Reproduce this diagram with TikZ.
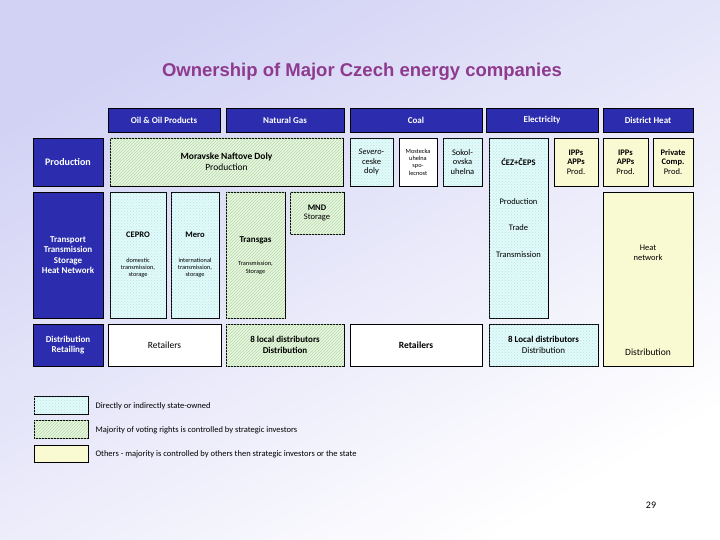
\documentclass[tikz,border=0pt]{standalone}
\usepackage{fontspec}
\setmainfont{Carlito}
\newfontfamily\titlefont{Liberation Sans}
\usetikzlibrary{patterns}
\definecolor{hdr}{HTML}{2B2DAE}
\definecolor{stcol}{HTML}{E2FAFA}
\definecolor{stpat}{HTML}{B8E6E6}
\definecolor{strcol}{HTML}{EAF8E2}
\definecolor{strpat}{HTML}{B5D9A8}
\definecolor{othcol}{HTML}{FAFAD2}
\definecolor{ttl}{HTML}{8E3A8E}
\definecolor{bgA}{HTML}{D2D2F5}
\tikzset{
 hbox/.style={draw=black,fill=hdr,text=white,font=\bfseries\fontsize{9}{10.5}\selectfont,align=center},
 stbox/.style={draw=black,fill=stcol,postaction={pattern=crosshatch dots,pattern color=stpat}},
 strbox/.style={draw=black,fill=strcol,postaction={pattern=north east lines,pattern color=strpat}},
 othbox/.style={draw=black,fill=othcol},
 whbox/.style={draw=black,fill=white},
 txt/.style={font=\fontsize{8.5}{9.5}\selectfont,align=center},
 sm/.style={font=\fontsize{6.3}{7.3}\selectfont,align=center},
}
\begin{document}
\begin{tikzpicture}[x=1pt,y=-1pt]
\shade[top color=bgA,bottom color=white,shading angle=30] (0,0) rectangle (720,540);
\useasboundingbox (0,0) rectangle (720,540);
\node[text=ttl,font=\titlefont\bfseries\fontsize{18.5}{22}\selectfont] (title) at (362,72) {Ownership of Major Czech energy companies};
% headers
\node[hbox,minimum width=112pt,minimum height=24pt] (h1) at (164,120) {Oil \& Oil Products};
\node[hbox,minimum width=118pt,minimum height=24pt] (h2) at (285,120) {Natural Gas};
\node[hbox,minimum width=132pt,minimum height=24pt] (h3) at (416,120) {Coal};
\node[hbox,minimum width=112pt,minimum height=24pt] (h4) at (542,120) {Electricity};
\node[hbox,minimum width=90pt,minimum height=24pt] (h5) at (648,120) {District Heat};
\node[hbox,minimum width=70pt,minimum height=48pt,font=\bfseries\fontsize{10}{11.5}\selectfont] (r1) at (68,162) {Production};
\node[hbox,minimum width=70pt,minimum height=126pt,inner sep=0pt] (r2) at (68,255) {Transport\\Transmission\\Storage\\Heat Network};
\node[hbox,minimum width=70pt,minimum height=42pt] (r3) at (68,345) {Distribution\\Retailing};
% production
\node[strbox,minimum width=233pt,minimum height=48pt] (mnd) at (226.5,162) {};
\node[txt,font=\fontsize{9.5}{11}\selectfont] at (mnd) {\textbf{Moravske Naftove Doly}\\Production};
\node[stbox,minimum width=43pt,minimum height=48pt] (sev) at (371.5,162) {};
\node[txt] at (sev) {\textit{Severo-}\\ceske\\doly};
\node[whbox,minimum width=38pt,minimum height=48pt,sm,inner sep=0pt] (mos) at (418,162) {Mostecka\\uhelna\\spo-\\lecnost};
\node[stbox,minimum width=39pt,minimum height=48pt] (sok) at (462.5,162) {};
\node[txt] at (sok) {Sokol-\\ovska\\uhelna};
\node[stbox,minimum width=59pt,minimum height=180pt] (cez) at (518.5,228) {};
\node[txt,font=\bfseries\fontsize{8.5}{9.5}\selectfont] at (518.5,162) {ĆEZ+ČEPS};
\node[txt] at (518.5,202) {Production};
\node[txt] at (518.5,228) {Trade};
\node[txt] at (518.5,255) {Transmission};
\node[othbox,minimum width=44pt,minimum height=48pt,txt] (ipp1) at (576,162) {\textbf{IPPs}\\\textbf{APPs}\\Prod.};
\node[othbox,minimum width=45pt,minimum height=48pt,txt] (ipp2) at (625.5,162) {\textbf{IPPs}\\\textbf{APPs}\\Prod.};
\node[othbox,minimum width=40pt,minimum height=48pt,txt,inner sep=0pt] (priv) at (673,162) {\textbf{Private}\\\textbf{Comp.}\\Prod.};
\node[othbox,minimum width=90pt,minimum height=174pt] (heat) at (648,279) {};
\node[txt] at (648,253) {Heat\\network};
\node[txt,font=\fontsize{9.5}{11}\selectfont] at (648,352) {Distribution};
% transport
\node[stbox,minimum width=56pt,minimum height=126pt] (cepro) at (138,255) {};
\node[txt,font=\bfseries\fontsize{8.5}{9.5}\selectfont] at (138,235) {CEPRO};
\node[sm] at (138,268) {domestic\\transmission,\\storage};
\node[stbox,minimum width=48pt,minimum height=126pt] (mero) at (195,255) {};
\node[txt,font=\bfseries\fontsize{8.5}{9.5}\selectfont] at (195,235) {Mero};
\node[sm] at (195,268) {international\\transmission,\\storage};
\node[strbox,minimum width=59pt,minimum height=126pt] (tg) at (255.5,255) {};
\node[txt,font=\bfseries\fontsize{9}{10}\selectfont] at (255.5,240) {Transgas};
\node[sm] at (255.5,268) {Transmission,\\Storage};
\node[strbox,minimum width=54pt,minimum height=42pt] (mndst) at (317,213) {};
\node[txt] at (317,213) {\textbf{MND}\\Storage};
% distribution
\node[whbox,minimum width=113pt,minimum height=42pt,txt,font=\fontsize{9.5}{11}\selectfont] (ret1) at (164.5,345) {Retailers};
\node[strbox,minimum width=118pt,minimum height=42pt] (loc1) at (285,345) {};
\node[txt,font=\fontsize{9}{10.5}\selectfont] at (loc1) {\textbf{8 local distributors}\\\textbf{Distribution}};
\node[whbox,minimum width=132pt,minimum height=42pt,txt,font=\bfseries\fontsize{9.5}{11}\selectfont] (ret2) at (416,345) {Retailers};
\node[stbox,minimum width=109pt,minimum height=42pt] (loc2) at (543.5,345) {};
\node[txt,font=\fontsize{9}{10.5}\selectfont] at (loc2) {\textbf{8 Local distributors}\\Distribution};
% legend
\node[stbox,minimum width=54pt,minimum height=18pt] (l1) at (61,405) {};
\node[strbox,minimum width=54pt,minimum height=18pt] (l2) at (61,429) {};
\node[othbox,minimum width=54pt,minimum height=17pt] (l3) at (61,453.5) {};
\node[txt,anchor=west] at (92,406) {Directly or indirectly state-owned};
\node[txt,anchor=west] at (92,430) {Majority of voting rights is controlled by strategic investors};
\node[txt,anchor=west] at (92,454) {Others - majority is controlled by others then strategic investors or the state};
\node[font=\fontsize{10}{11}\selectfont] (pg) at (651,505) {29};
\end{tikzpicture}
\end{document}
